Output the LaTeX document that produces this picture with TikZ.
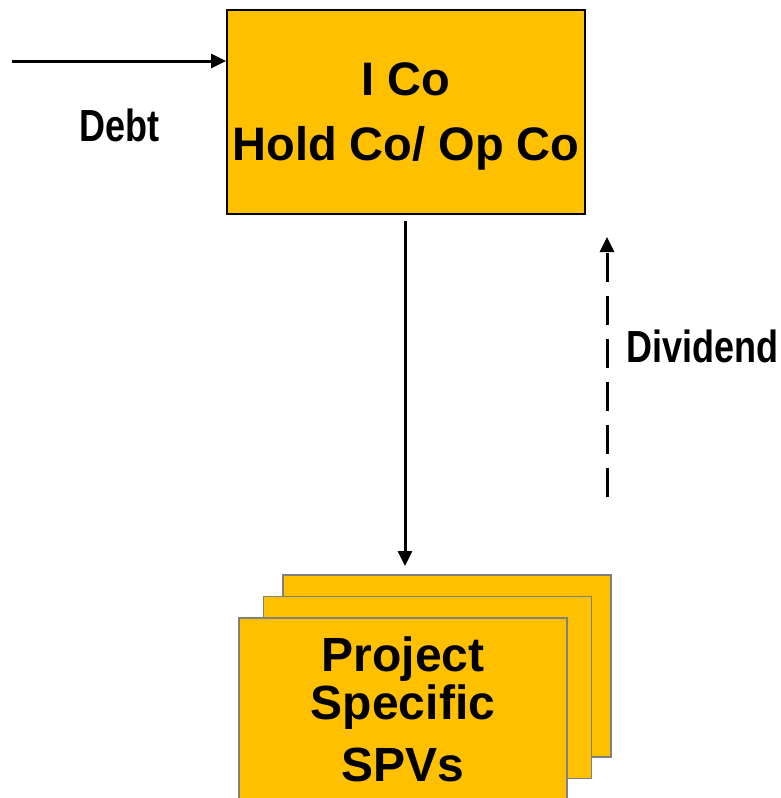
\documentclass[tikz,border=0pt]{standalone}
\usepackage{fontspec}
\setmainfont{Liberation Sans}
\newfontfamily\narrowfont[FakeStretch=0.8]{Liberation Sans}
\usetikzlibrary{arrows.meta}
\definecolor{cogold}{HTML}{FFC000}

\begin{document}
\begin{tikzpicture}[x=1pt,y=1pt,
  cobox/.style={draw, fill=cogold, line width=1.8pt, align=center, text depth=0pt,
    font=\bfseries\fontsize{47}{65}\selectfont},
  spvbox/.style={draw=gray, fill=cogold, line width=1.8pt, minimum width=328pt, minimum height=182pt},
  flowlbl/.style={inner sep=0pt, font=\narrowfont\bfseries\fontsize{45}{45}\selectfont},
  flow/.style={draw, line width=3pt, -{Triangle[length=15pt,width=14pt]}}]
\useasboundingbox (0,0) rectangle (781,-798);

% holding company
\node[cobox, minimum width=358pt, minimum height=204pt] (ico) at (406,-112) {I Co\\Hold Co/ Op Co};

% stack of SPVs, back to front
\node[spvbox] (spv3) at (447,-666) {};
\node[spvbox] (spv2) at (427.5,-687.5) {};
\node[spvbox, align=center, font=\bfseries\fontsize{48}{48}\selectfont] (spv1) at (403,-709)
  {Project\\Specific\\[14pt]SPVs};

\coordinate (debtin) at (12,-61);
\coordinate (spvin) at (405,-566);
\coordinate (divlow) at (607,-497);
\coordinate (divtop) at (607,-237);

\path
(debtin) edge [flow] node (debtlbl) [flowlbl, below=46pt] {Debt} (ico.west |- debtin)
(ico.south -| spvin) edge [flow, shorten <=6pt] (spvin)
(divlow) edge [flow, dash pattern=on 29pt off 14pt] node (divlbl) [flowlbl, pos=0.58, right=18pt] {Dividend} (divtop);
\end{tikzpicture}
\end{document}
